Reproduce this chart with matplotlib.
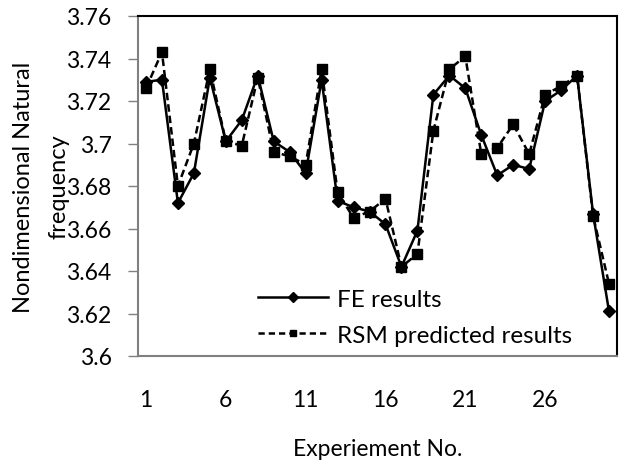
import matplotlib
matplotlib.use("Agg")
import matplotlib.pyplot as plt

plt.rcParams['font.family'] = ['Lato', 'DejaVu Sans']

experiments = list(range(1, 31))
fe_results = [3.729, 3.730, 3.672, 3.686, 3.731, 3.701, 3.711, 3.732, 3.701, 3.696,
              3.686, 3.730, 3.673, 3.670, 3.668, 3.662, 3.642, 3.659, 3.723, 3.732,
              3.726, 3.704, 3.685, 3.690, 3.688, 3.720, 3.725, 3.732, 3.667, 3.621]
rsm_results = [3.726, 3.743, 3.680, 3.700, 3.735, 3.701, 3.699, 3.731, 3.696, 3.694,
               3.690, 3.735, 3.677, 3.665, 3.668, 3.674, 3.642, 3.648, 3.706, 3.735,
               3.741, 3.695, 3.698, 3.709, 3.695, 3.723, 3.727, 3.732, 3.666, 3.634]
x_tick_labels = ['1', '6', '11', '16', '21', '26']
y_ticks = [3.6, 3.62, 3.64, 3.66, 3.68, 3.7, 3.72, 3.74, 3.76]
y_tick_labels = ['3.6', '3.62', '3.64', '3.66', '3.68', '3.7', '3.72', '3.74', '3.76']

fig = plt.figure(figsize=(6.23, 4.64), dpi=100)
ax = fig.add_axes([138 / 623, 1 - 357 / 464, (617 - 138) / 623, (357 - 17) / 464])

ax.plot(experiments, fe_results, color='black', lw=1.8, marker='D', ms=6,
        label='FE results', zorder=3)
ax.plot(experiments, rsm_results, color='black', lw=1.8, ls=(0, (3, 1.6)), marker='s',
        ms=7.5, label='RSM predicted results', zorder=2)

ax.set_xlim(0.5, 30.5)
ax.set_ylim(3.6, 3.76)
ax.set_xticks([int(t) for t in x_tick_labels])
ax.set_xticklabels(x_tick_labels)
ax.set_yticks(y_ticks)
ax.set_yticklabels(y_tick_labels)

ax.tick_params(axis='x', length=0, pad=24, labelsize=16.5)
ax.tick_params(axis='y', length=7, width=1, color='#808080', pad=12, labelsize=16.5,
               direction='out')

for side in ['top', 'right']:
    ax.spines[side].set_color('black')
    ax.spines[side].set_linewidth(1.5)
for side in ['left', 'bottom']:
    ax.spines[side].set_color('#808080')
    ax.spines[side].set_linewidth(1.5)

ax.set_xlabel('Experiement No.', fontsize=16.5, labelpad=20)
fig.text(24 / 623, 1 - 187 / 464, 'Nondimensional Natural', rotation=90,
         ha='center', va='center', fontsize=17)
fig.text(59 / 623, 1 - 187 / 464, 'frequency', rotation=90,
         ha='center', va='center', fontsize=17)

leg = ax.legend(loc='lower left', bbox_to_anchor=((258 - 138) / 479, 0.03),
                frameon=False, fontsize=17.5, handlelength=2.9, handletextpad=0.37,
                labelspacing=0.62, borderpad=0, borderaxespad=0)
for handle in leg.legend_handles:
    handle.set_markersize(5)
leg.legend_handles[1].set_dashes((2.5, 1.6))

fig.savefig('out.png', dpi=100)
